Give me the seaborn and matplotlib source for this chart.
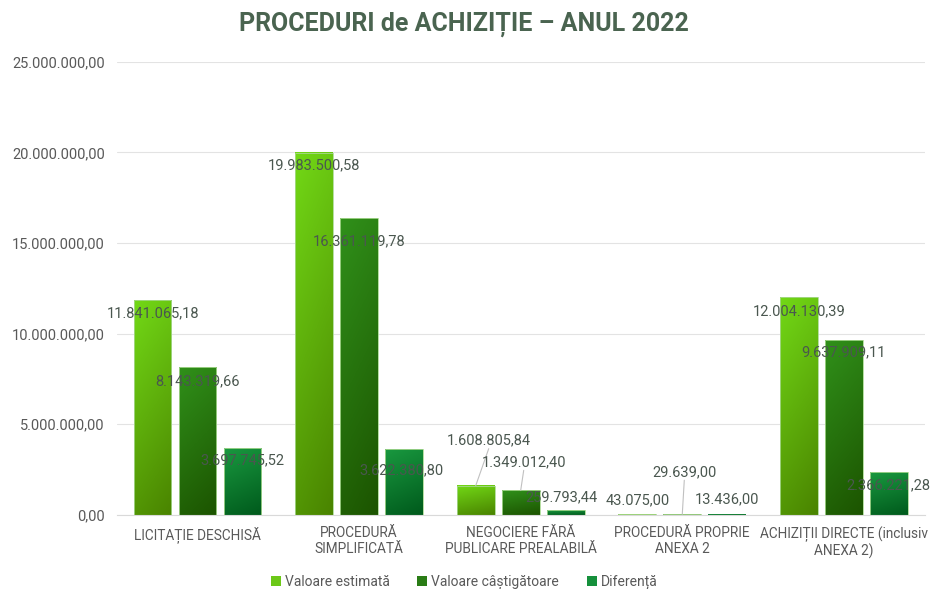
import numpy as np
import pandas as pd
import matplotlib
matplotlib.use("Agg")
import matplotlib.pyplot as plt
import matplotlib.colors as mcolors
from matplotlib.patches import Patch
from matplotlib.ticker import FuncFormatter
import seaborn as sns

# data
categories = ["LICITAȚIE DESCHISĂ", "PROCEDURĂ\nSIMPLIFICATĂ",
              "NEGOCIERE FĂRĂ\nPUBLICARE PREALABILĂ", "PROCEDURĂ PROPRIE\nANEXA 2",
              "ACHIZIȚII DIRECTE (inclusiv\nANEXA 2)"]
series = ["Valoare estimată", "Valoare câștigătoare", "Diferență"]
valoare_estimata = [11841065.18, 19983500.58, 1608805.84, 43075.00, 12004130.39]
valoare_castigatoare = [8143319.66, 16361119.78, 1349012.40, 29639.00, 9637909.11]
diferenta = [3697745.52, 3622380.80, 259793.44, 13436.00, 2366221.28]
y_ticks = [0, 5e6, 10e6, 15e6, 20e6, 25e6]

df = pd.DataFrame({
    "Procedura": categories * 3,
    "Serie": [s for s in series for _ in categories],
    "Valoare": valoare_estimata + valoare_castigatoare + diferenta,
})

# (top colour, bottom colour) for the gradient fills, plus legend swatch colour
grad_cols = [("#72d816", "#4a8400"), ("#30901a", "#1c5400"), ("#19983f", "#005a1c")]
legend_cols = ["#6cc818", "#2a7c16", "#16903c"]

# label offsets in pixels (dx, dy) per series / category, plus leader-line flags
label_off = [
    [(0, -13), (0, -13), (13, 45), (0, 14), (0, -14)],
    [(0, -14), (0, -23), (3, 28), (2, 42), (0, -12)],
    [(0, -13), (-3, -21), (-4, 13), (0, 15), (0, -13)],
]
leaders = {(0, 2), (1, 2), (1, 3)}

def fmt_ro(v, pos=None):
    s = f"{v:,.2f}"
    return s.replace(",", "X").replace(".", ",").replace("X", ".")

sns.set_style("white")
plt.rcParams["font.family"] = ["Roboto", "DejaVu Sans"]

fig = plt.figure(figsize=(9.34, 5.89), dpi=100)
ax = fig.add_axes([0.125, 0.126, 0.865, 0.769])

sns.barplot(data=df, x="Procedura", y="Valoare", hue="Serie", order=categories,
            hue_order=series, palette=legend_cols, width=0.835, gap=0.16,
            errorbar=None, legend=False, ax=ax)

text_col = "#4a574f"
for si, cont in enumerate(ax.containers):
    top, bot = grad_cols[si]
    cmap = mcolors.LinearSegmentedColormap.from_list(f"g{si}", [top, bot])
    for ci, p in enumerate(cont.patches):
        x0, w, h = p.get_x(), p.get_width(), p.get_height()
        yy, xx = np.mgrid[0:1:100j, 0:1:20j]
        grad = 0.8 * yy + 0.2 * xx
        ax.imshow(grad, cmap=cmap, extent=[x0, x0 + w, 0, h], aspect="auto",
                  origin="upper", zorder=2, interpolation="bilinear")
        p.set_facecolor("none")
        p.set_edgecolor("#a8d890")
        p.set_linewidth(0.6)
        p.set_zorder(3)
        dx, dy = label_off[si][ci]
        xc = x0 + w / 2
        ax.annotate(fmt_ro(h), xy=(xc, h), xytext=(dx, dy), textcoords="offset pixels",
                    ha="center", va="center", fontsize=10.5, color=text_col, zorder=5)
        if (si, ci) in leaders:
            ax.annotate("", xy=(xc, h), xytext=(dx, dy - 8), textcoords="offset pixels",
                        arrowprops=dict(arrowstyle="-", color="#c0c0c0", lw=0.8,
                                        shrinkA=0, shrinkB=0), zorder=4)

ax.set_xlim(-0.5, len(categories) - 0.5)
ax.set_ylim(0, 25e6)
ax.set_yticks(y_ticks)
ax.yaxis.set_major_formatter(FuncFormatter(fmt_ro))
ax.tick_params(axis="y", length=0, labelsize=10.5, labelcolor="#595959", pad=8.5)
ax.tick_params(axis="x", length=0, labelsize=9.8, labelcolor="#595959", pad=8)
ax.grid(axis="y", color="#e3e3e3", linewidth=0.8, zorder=0)
ax.set_axisbelow(True)
for side in ["top", "right", "left"]:
    ax.spines[side].set_visible(False)
ax.spines["bottom"].set_color("#d9d9d9")
ax.set_xlabel("")
ax.set_ylabel("")

fig.suptitle("PROCEDURI de ACHIZIȚIE – ANUL 2022", x=0.497, y=0.98,
             fontsize=18, fontweight="bold", color="#4a6450")

handles = [Patch(facecolor=c, edgecolor="none") for c in legend_cols]
fig.legend(handles, series, loc="lower center", bbox_to_anchor=(0.497, -0.022), ncol=3,
           frameon=False, fontsize=10, handlelength=0.7, handleheight=0.7,
           handletextpad=0.3, columnspacing=2.0, labelcolor="#595959")

fig.savefig("out.png", dpi=100)
